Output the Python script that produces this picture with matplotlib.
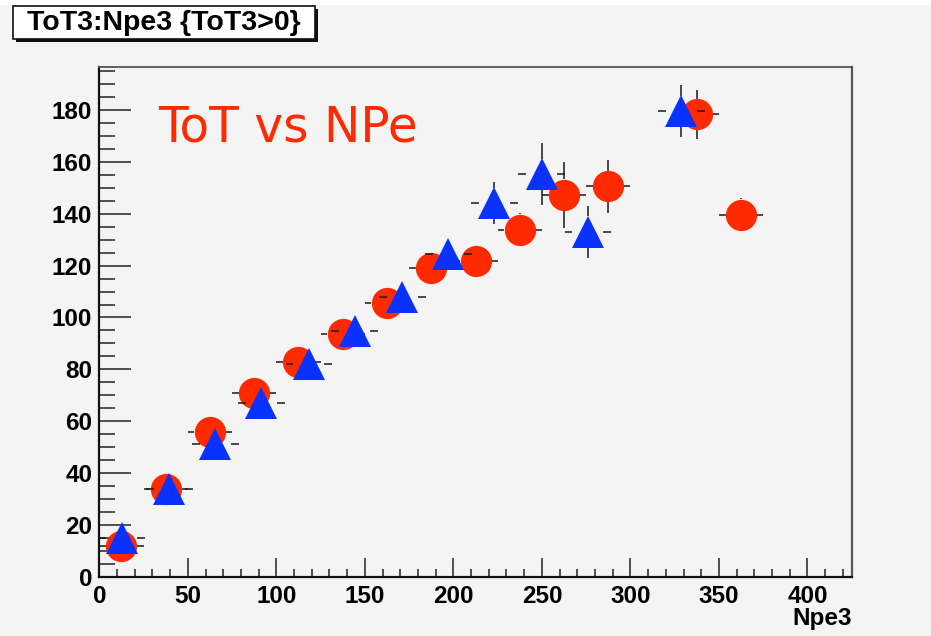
import numpy as np
import matplotlib
matplotlib.use('Agg')
import matplotlib.pyplot as plt
from matplotlib.collections import LineCollection
from matplotlib.patches import Rectangle
from matplotlib.ticker import MultipleLocator

# profile of ToT3 vs Npe3, 25-wide bins (circles)
circX = [12.5, 37.5, 62.5, 87.5, 112.5, 137.5, 162.5, 187.5, 212.5, 237.5, 262.5, 287.5, 337.5, 362.5]
circY = [11.8, 33.7, 55.7, 70.7, 82.9, 93.8, 105.4, 119.1, 121.8, 133.9, 147.4, 150.6, 178.3, 139.7]
circXErr = [12.5]*14
circYErr = [2.0, 3.0, 4.0, 4.0, 3.0, 3.0, 4.0, 5.0, 5.0, 6.5, 12.7, 10.3, 9.4, 6.3]

# second profile, slightly wider bins (triangles)
triX = [12.7, 39.5, 65.5, 91.6, 118.4, 144.2, 171.2, 197.1, 223.1, 249.9, 276.0, 328.8]
triY = [14.9, 33.8, 51.3, 67.0, 81.9, 94.7, 107.8, 124.5, 144.1, 155.2, 133.1, 179.6]
triXErr = [13.2]*12
triYErr = [2.0, 3.0, 4.0, 4.0, 4.0, 4.0, 5.0, 5.0, 8.0, 12.0, 10.0, 10.0]

xMin, xMax = 0, 425
yMin, yMax = 0, 196.5

bg = '#f4f4f4'
red = '#ff2a00'
blue = '#0a32ff'
lblFont = 'Liberation Sans'
lblSize = 17.5


def drawErrors(ax, x, y, xe, ye, gx, gy, z):
    # ROOT style: error lines start at the marker edge, not at its centre
    segs = []
    for xi, yi, ex, ey in zip(x, y, xe, ye):
        if ex > gx:
            segs.append([(xi - ex, yi), (xi - gx, yi)])
            segs.append([(xi + gx, yi), (xi + ex, yi)])
        if ey > gy:
            segs.append([(xi, yi - ey), (xi, yi - gy)])
            segs.append([(xi, yi + gy), (xi, yi + ey)])
    ax.add_collection(LineCollection(segs, colors='#1a1a1a', linewidths=1.1, zorder=z))


fig = plt.figure(figsize=(9.31, 6.36), dpi=100)
fig.patch.set_facecolor('white')
fig.patches.append(Rectangle((0, 0), 1, 1 - 5/636, transform=fig.transFigure,
                             facecolor=bg, edgecolor='none', zorder=-10))

ax = fig.add_axes([99.3/931, 1 - 576.7/636, (851.7 - 99.3)/931, (576.7 - 67.3)/636])
ax.set_facecolor(bg)
ax.set_xlim(xMin, xMax)
ax.set_ylim(yMin, yMax)

# pixel scale, used for the marker gap in the error lines
bb = ax.get_window_extent()
sx = bb.width/(xMax - xMin)
sy = bb.height/(yMax - yMin)
gapPx = 15.5

drawErrors(ax, circX, circY, circXErr, circYErr, gapPx/sx, gapPx/sy, 1)
ax.plot(circX, circY, 'o', color=red, markersize=22.5, markeredgewidth=0, zorder=2, clip_on=False)
drawErrors(ax, triX, triY, triXErr, triYErr, gapPx/sx, gapPx/sy, 3)
ax.plot(triX, triY, '^', color=blue, markersize=22.5, markeredgewidth=0, zorder=4, clip_on=False)

ax.xaxis.set_major_locator(MultipleLocator(50))
ax.xaxis.set_minor_locator(MultipleLocator(10))
ax.yaxis.set_major_locator(MultipleLocator(20))
ax.yaxis.set_minor_locator(MultipleLocator(5))
ax.tick_params(which='both', direction='in', top=False, right=False, color='#222222', width=1.1)
ax.tick_params(axis='x', which='major', length=14, pad=6)
ax.tick_params(axis='x', which='minor', length=6)
ax.tick_params(axis='y', which='major', length=23, pad=5)
ax.tick_params(axis='y', which='minor', length=11.5)
for lab in ax.get_xticklabels() + ax.get_yticklabels():
    lab.set_fontfamily(lblFont)
    lab.set_fontweight('bold')
    lab.set_fontsize(lblSize)

ax.spines['left'].set_color('#111111')
ax.spines['bottom'].set_color('#111111')
ax.spines['left'].set_linewidth(1.6)
ax.spines['bottom'].set_linewidth(1.6)
ax.spines['top'].set_color('#555555')
ax.spines['right'].set_color('#555555')
ax.spines['top'].set_linewidth(1.3)
ax.spines['right'].set_linewidth(1.6)

ax.text(1.0, -0.06, 'Npe3', transform=ax.transAxes, ha='right', va='top',
        fontfamily=lblFont, fontweight='bold', fontsize=lblSize)

ax.text(0.078, 0.854, 'ToT vs NPe', transform=ax.transAxes, ha='left', va='baseline',
        color=red, fontsize=35, fontfamily='DejaVu Sans')

# title box with drop shadow
W, H = 931.0, 636.0
x0, y0, x1, y1 = 13, 6, 315, 39
fig.patches.append(Rectangle(((x0 + 3)/W, 1 - (y1 + 3)/H), (x1 - x0)/W, (y1 - y0)/H,
                             transform=fig.transFigure,
                             facecolor='#111111', edgecolor='none', zorder=5))
fig.patches.append(Rectangle((x0/W, 1 - y1/H), (x1 - x0)/W, (y1 - y0)/H, transform=fig.transFigure,
                             facecolor='white', edgecolor='#111111', linewidth=1.2, zorder=6))
fig.text((x0 + x1)/2/W, 1 - (y0 + y1)/2/H, 'ToT3:Npe3 {ToT3>0}', ha='center', va='center',
         fontfamily=lblFont, fontweight='bold', fontsize=20.5, zorder=7)

fig.savefig('out.png', dpi=100, facecolor=fig.get_facecolor())
